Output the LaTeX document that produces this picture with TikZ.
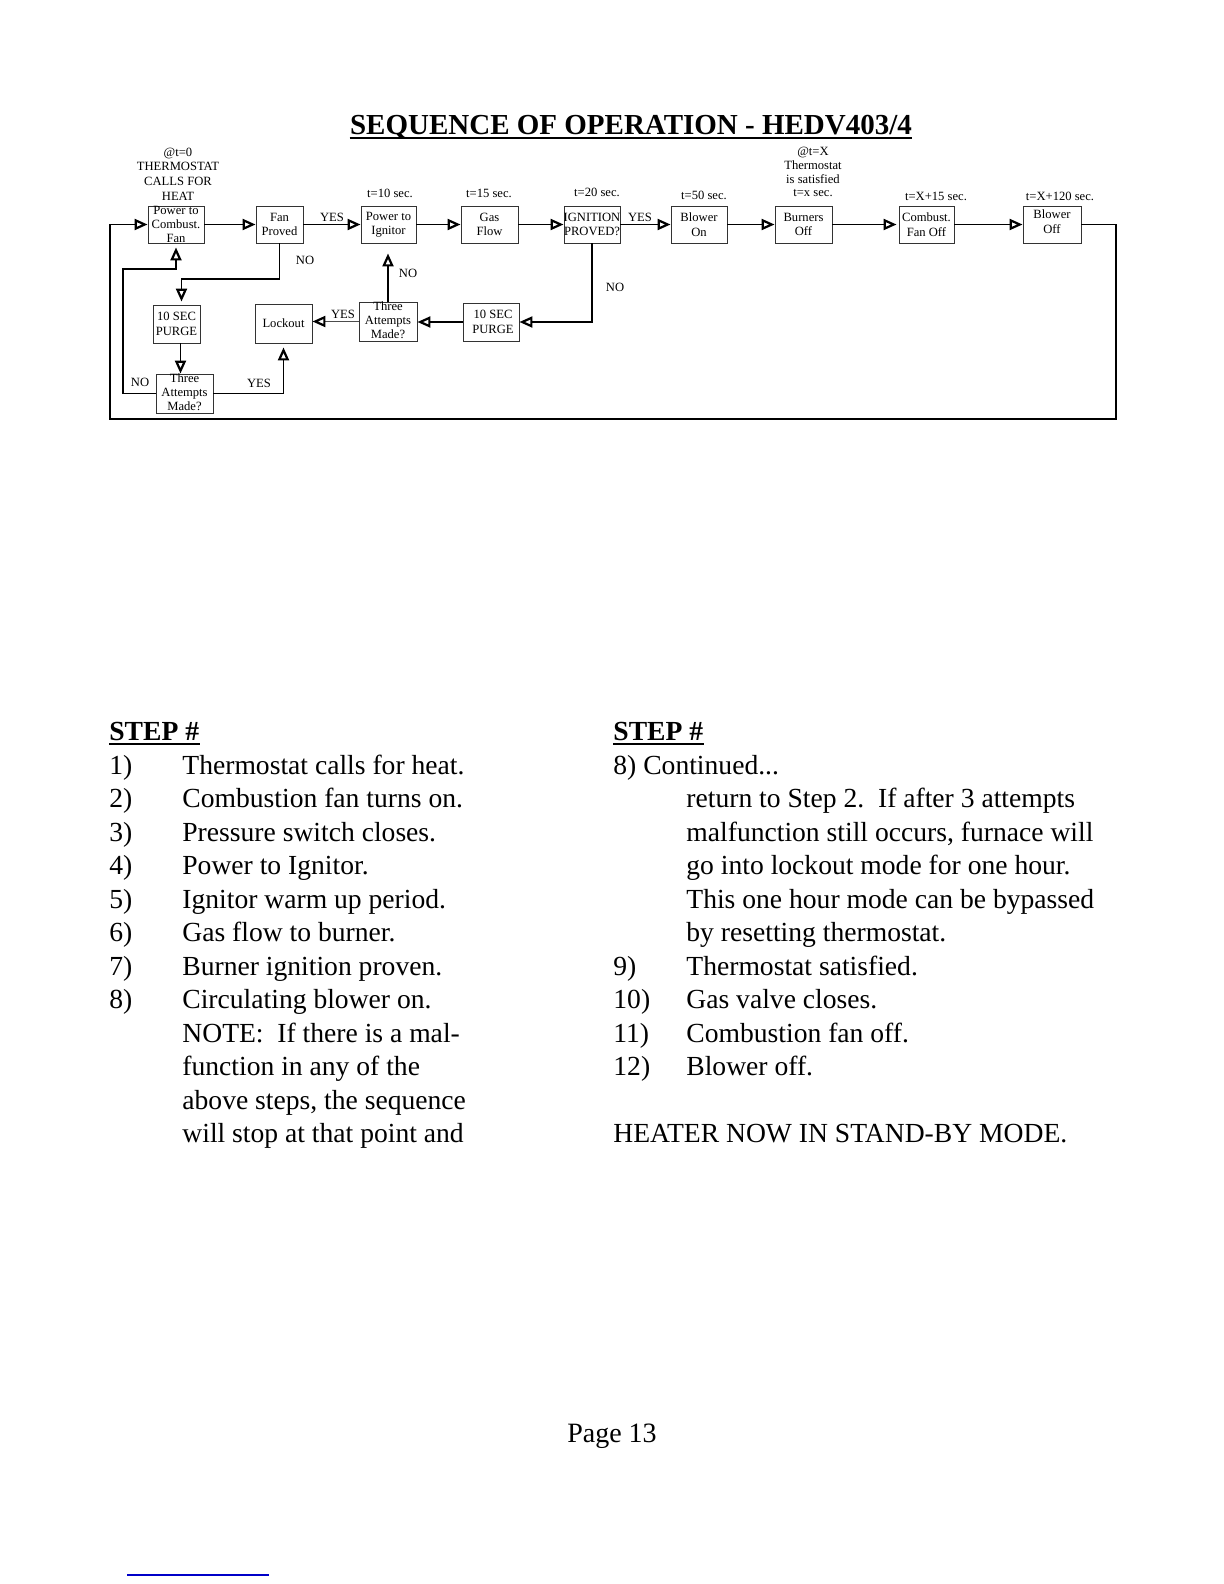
\documentclass[tikz,border=0pt]{standalone}
\usepackage{fontspec}
\setmainfont{Liberation Serif}
\usetikzlibrary{arrows.meta}
\begin{document}
\begin{tikzpicture}[x=0.5pt,y=-0.5pt,
  box/.style={draw=black!80,line width=0.45pt,inner sep=0pt,minimum height=18.5pt},
  btxt/.style={font=\fontsize{6.3}{7.2}\selectfont,align=center,inner sep=0pt},
  lbl/.style={font=\fontsize{6.3}{7.2}\selectfont,inner sep=0pt,align=center},
  flow/.style={line width=0.9pt,-{Triangle[open,length=6.5pt,width=5.5pt,line width=1.1pt]}},
  thinflow/.style={line width=0.45pt,draw=black!70,-{Triangle[open,length=6.5pt,width=5.5pt,line width=1.1pt,color=black]}},
  body/.style={anchor=base west,inner sep=0pt,font=\fontsize{13.8}{16.75}\selectfont},
  bodyb/.style={anchor=base west,inner sep=0pt,font=\fontsize{13.8}{16.75}\selectfont\bfseries},
  uline/.style={line width=0.9pt}]
\useasboundingbox (0,0) rectangle (1224,1584);
\fill[white] (0,0) rectangle (1224,1584);

% title
\node[anchor=base,inner sep=0pt,font=\fontsize{14.5}{17}\selectfont\bfseries] (title) at (631,134) {SEQUENCE OF OPERATION - HEDV403/4};
\draw[uline] ([yshift=-2pt]title.base west) -- ([yshift=-2pt]title.base east);

% top labels
\node[lbl,font=\fontsize{6.3}{7.35}\selectfont] (start) at (178,174) {@t=0\\THERMOSTAT\\CALLS FOR\\HEAT};
\node[lbl,font=\fontsize{6.3}{6.9}\selectfont] (satis) at (813,172) {@t=X\\Thermostat\\is satisfied\\t=x sec.};
\node[lbl] (t10) at (390,193) {t=10 sec.};
\node[lbl] (t15) at (489,193) {t=15 sec.};
\node[lbl] (t20) at (597,192) {t=20 sec.};
\node[lbl] (t50) at (704,195) {t=50 sec.};
\node[lbl] (tx15) at (936,196) {t=X+15 sec.};
\node[lbl] (tx120) at (1060,196) {t=X+120 sec.};

% main boxes
\node[box,minimum width=28pt] (PCF) at (176,224.5) {};
\node[btxt] (PCFt) at (PCF.center) {Power to\\Combust.\\Fan};
\node[box,minimum width=23.5pt] (FP) at (279.5,224.5) {};
\node[btxt] (FPt) at (FP.center) {Fan\\Proved};
\node[box,minimum width=27.5pt] (PI) at (388.5,224.5) {};
\node[btxt] (PIt) at (PI.center) {Power to\\Ignitor};
\node[box,minimum width=28.5pt] (GF) at (489.5,224.5) {};
\node[btxt] (GFt) at (GF.center) {Gas\\Flow};
\node[box,minimum width=28pt] (IP) at (592,224.5) {};
\node[btxt] (IPt) at (IP.center) {IGNITION\\PROVED?};
\node[box,minimum width=28pt] (BO) at (699,224.5) {};
\node[btxt] (BOt) at (BO.center) {Blower\\On};
\node[box,minimum width=28.5pt] (BuO) at (803.5,224.5) {};
\node[btxt] (BuOt) at (BuO.center) {Burners\\Off};
\node[box,minimum width=27.5pt] (CFO) at (926.5,224.5) {};
\node[btxt] (CFOt) at (CFO.center) {Combust.\\Fan Off};
\node[box,minimum width=29pt] (BlO) at (1052,224.5) {};
\node[btxt] (BlOt) at ([yshift=1.5pt]BlO.center) {Blower\\Off};

% lower boxes
\node[box,minimum width=23.5pt,minimum height=19pt] (P1) at (176.5,324) {};
\node[btxt] (P1t) at (P1.center) {10 SEC\\PURGE};
\node[box,minimum width=28.5pt,minimum height=19.5pt] (L) at (283.5,323.5) {};
\node[btxt] (Lt) at (L.center) {Lockout};
\node[box,minimum width=29pt,minimum height=19.5pt] (Tm) at (388,321.5) {};
\node[btxt,font=\fontsize{6.3}{7}\selectfont] (Tmt) at ([yshift=0.5pt]Tm.center) {Three\\Attempts\\Made?};
\node[box,minimum width=28pt,minimum height=19pt] (P2) at (491,322) {};
\node[btxt] (P2t) at ([xshift=1pt]P2.center) {10 SEC\\PURGE};
\node[box,minimum width=28.5pt,minimum height=19.5pt] (Tb) at (184.5,393.5) {};
\node[btxt,font=\fontsize{6.3}{7}\selectfont] (Tbt) at ([yshift=0.5pt]Tb.center) {Three\\Attempts\\Made?};

% corner coordinates
\coordinate (r1) at (1116,224.5);
\coordinate (r2) at (1116,419);
\coordinate (l2) at (110,419);
\coordinate (l1) at (110,224.5);
\coordinate (k1) at (123,393.5);
\coordinate (k2) at (123,269);
\coordinate (k3) at (230,279);

% main flow
\draw[flow] (PCF.east) -- (FP.west);
\draw[flow] (FP.east) -- (PI.west);
\draw[flow] (PI.east) -- (GF.west);
\draw[flow] (GF.east) -- (IP.west);
\draw[flow] (IP.east) -- (BO.west);
\draw[flow] (BO.east) -- (BuO.west);
\draw[flow,shorten >=1pt] (BuO.east) -- (CFO.west);
\draw[flow] (CFO.east) -- (BlO.west);
\draw[flow] (BlO.east) -- (r1) -- (r2) -- (l2) -- (l1) -- (PCF.west);

% loops
\draw[flow,shorten >=1.5pt] (FP.south) |- (k3) -| ([xshift=2.5pt]P1.north);
\draw[flow] ([xshift=2pt]P1.south) -- ([xshift=2pt]P1.south |- Tb.north);
\draw[flow,shorten >=2pt] (Tb.west) -- (k1) -- (k2) -| (PCF.south);
\draw[flow,shorten >=2pt] (Tb.east) -| (L.south);
\draw[flow] (IP.south) |- (P2.east);
\draw[flow] (P2.west) -- (P2.west -| Tm.east);
\draw[flow,shorten >=5pt] (Tm.north) -- (Tm.north |- PI.south);
\draw[thinflow] (Tm.west) -- (Tm.west -| L.east);

% connector labels
\node[lbl] (yes1) at (332,217) {YES};
\node[lbl] (yes2) at (640,217) {YES};
\node[lbl] (no1) at (305,260) {NO};
\node[lbl] (no2) at (408,273) {NO};
\node[lbl] (no3) at (615,287) {NO};
\node[lbl] (yes3) at (343,314) {YES};
\node[lbl] (no4) at (140,382) {NO};
\node[lbl] (yes4) at (259,383) {YES};

% body text - left column
\node[bodyb] (h1) at (109,740) {STEP \#};
\draw[uline] ([yshift=-2pt]h1.base west) -- ([yshift=-2pt]h1.base east);
\node[body] (n1) at (109,774) {1)};     \node[body] (s1) at (182,774) {Thermostat calls for heat.};
\node[body] (n2) at (109,807.5) {2)};   \node[body] (s2) at (182,807.5) {Combustion fan turns on.};
\node[body] (n3) at (109,841) {3)};     \node[body] (s3) at (182,841) {Pressure switch closes.};
\node[body] (n4) at (109,874.5) {4)};   \node[body] (s4) at (182,874.5) {Power to Ignitor.};
\node[body] (n5) at (109,908) {5)};     \node[body] (s5) at (182,908) {Ignitor warm up period.};
\node[body] (n6) at (109,941.5) {6)};   \node[body] (s6) at (182,941.5) {Gas flow to burner.};
\node[body] (n7) at (109,975) {7)};     \node[body] (s7) at (182,975) {Burner ignition proven.};
\node[body] (n8) at (109,1008.5) {8)};  \node[body] (s8) at (182,1008.5) {Circulating blower on.};
\node[body] (s8a) at (182,1042) {NOTE:\ \ If there is a mal-};
\node[body] (s8b) at (182,1075.5) {function in any of the};
\node[body] (s8c) at (182,1109) {above steps, the sequence};
\node[body] (s8d) at (182,1142.5) {will stop at that point and};

% body text - right column
\node[bodyb] (h2) at (613,740) {STEP \#};
\draw[uline] ([yshift=-2pt]h2.base west) -- ([yshift=-2pt]h2.base east);
\node[body] (c8) at (613,774) {8) Continued...};
\node[body] (c8a) at (686,807.5) {return to Step 2.\ \ If after 3 attempts};
\node[body] (c8b) at (686,841) {malfunction still occurs, furnace will};
\node[body] (c8c) at (686,874.5) {go into lockout mode for one hour.};
\node[body] (c8d) at (686,908) {This one hour mode can be bypassed};
\node[body] (c8e) at (686,941.5) {by resetting thermostat.};
\node[body] (n9) at (613,975) {9)};      \node[body] (s9) at (686,975) {Thermostat satisfied.};
\node[body] (n10) at (613,1008.5) {10)}; \node[body] (s10) at (686,1008.5) {Gas valve closes.};
\node[body] (n11) at (613,1042) {11)};   \node[body] (s11) at (686,1042) {Combustion fan off.};
\node[body] (n12) at (613,1075.5) {12)}; \node[body] (s12) at (686,1075.5) {Blower off.};
\node[body] (stby) at (613,1142.5) {HEATER NOW IN STAND-BY MODE.};

% footer
\node[anchor=base,inner sep=0pt,font=\fontsize{14}{16.75}\selectfont] (page) at (612,1442) {Page 13};
\coordinate (b1) at (127,1575);
\coordinate (b2) at (269,1575);
\draw[line width=0.8pt,color={rgb,255:red,0;green,0;blue,200}] (b1) -- (b2);
\end{tikzpicture}
\end{document}
